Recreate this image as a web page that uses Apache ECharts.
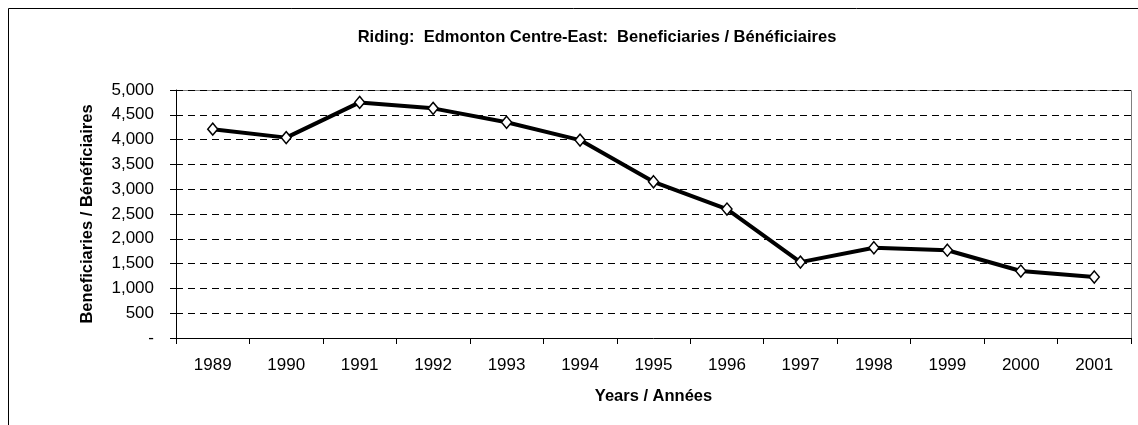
<!DOCTYPE html>
<html>
<head>
<meta charset="utf-8">
<script src="https://cdn.jsdelivr.net/npm/echarts@6/dist/echarts.min.js"></script>
<style>
  html, body { margin: 0; padding: 0; background: #fff; }
  #chart { width: 1138px; height: 425px; }
</style>
</head>
<body>
<div id="chart"></div>
<script>
// years on the x axis
var years = ['1989', '1990', '1991', '1992', '1993', '1994', '1995', '1996', '1997', '1998', '1999', '2000', '2001'];
// beneficiaries per year
var beneficiaries = [4210, 4040, 4750, 4630, 4350, 3990, 3150, 2600, 1530, 1820, 1770, 1350, 1230];

var chart = echarts.init(document.getElementById('chart'));
var bold = '"Liberation Sans", Arial, sans-serif';

var option = {
  backgroundColor: '#ffffff',
  animation: false,
  graphic: [
    {
      // outer chart frame
      type: 'rect',
      shape: { x: 8.5, y: 8.5, width: 1140, height: 430 },
      style: { fill: 'none', stroke: '#000', lineWidth: 1 },
      silent: true
    },
    {
      // plot area frame (top and right)
      type: 'polyline',
      shape: { points: [[176, 90.5], [1131.5, 90.5], [1131.5, 338]] },
      style: { stroke: '#808080', lineWidth: 1, fill: 'none' },
      silent: true
    }
  ],
  title: {
    text: 'Riding:  Edmonton Centre-East:  Beneficiaries / Bénéficiaires',
    left: 592,
    textAlign: 'center',
    top: 24,
    textStyle: { fontFamily: bold, fontWeight: 'bold', fontSize: 16.5, color: '#000' }
  },
  grid: { left: 176, right: 7, top: 90, bottom: 87 },
  xAxis: {
    type: 'category',
    data: years,
    boundaryGap: true,
    name: 'Years / Années',
    nameLocation: 'middle',
    nameGap: 50,
    nameTextStyle: { fontFamily: bold, fontWeight: 'bold', fontSize: 16.5, color: '#000' },
    axisLine: { lineStyle: { color: '#000', width: 1 } },
    axisTick: { show: true, length: 6, lineStyle: { color: '#000' } },
    axisLabel: { color: '#000', fontSize: 17, fontFamily: 'Liberation Sans, Arial, sans-serif', margin: 19 },
    splitLine: { show: false }
  },
  yAxis: {
    type: 'value',
    min: 0,
    max: 5000,
    interval: 500,
    name: 'Beneficiaries / Bénéficiaires',
    nameLocation: 'middle',
    nameRotate: 90,
    nameGap: 80,
    nameTextStyle: { fontFamily: bold, fontWeight: 'bold', fontSize: 16.5, color: '#000' },
    axisLine: { show: true, lineStyle: { color: '#000', width: 1 } },
    axisTick: { show: true, length: 6, lineStyle: { color: '#000' } },
    axisLabel: {
      color: '#000',
      fontSize: 17,
      fontFamily: 'Liberation Sans, Arial, sans-serif',
      margin: 22,
      formatter: function (v) {
        if (v === 0) return '-';
        return v.toString().replace(/\B(?=(\d{3})+(?!\d))/g, ',');
      }
    },
    splitLine: {
      show: true,
      lineStyle: { color: '#000', type: [7, 5], width: 1 }
    }
  },
  series: [
    {
      type: 'line',
      data: beneficiaries,
      symbol: 'diamond',
      symbolSize: [10, 12],
      showAllSymbol: true,
      lineStyle: { color: '#000', width: 4 },
      itemStyle: { color: '#fff', borderColor: '#000', borderWidth: 1.5 },
      z: 5
    }
  ]
};
chart.setOption(option);
</script>
</body>
</html>
